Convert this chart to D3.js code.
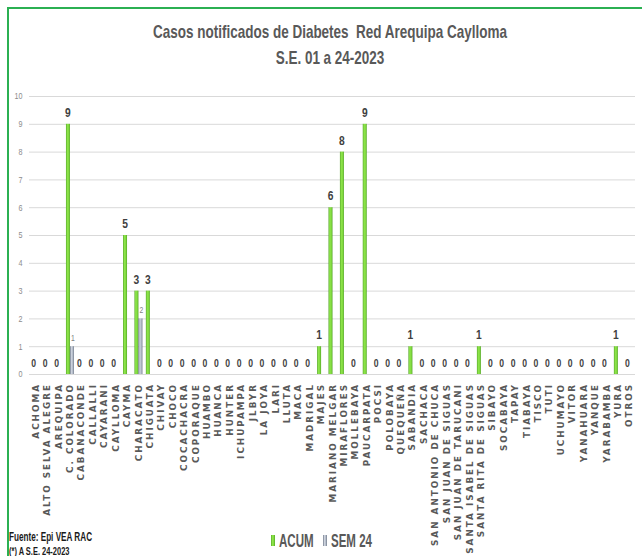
<!DOCTYPE html>
<html>
<head>
<meta charset="utf-8">
<script src="https://cdn.jsdelivr.net/npm/d3@7/dist/d3.min.js"></script>
<style>
  body { margin: 0; background: #fff; }
  svg { display: block; }
  svg text { white-space: pre; }
</style>
</head>
<body>
<div id="chart"></div>
<script>
// distritos (eje x)
var categories = ["ACHOMA", "ALTO SELVA ALEGRE", "AREQUIPA", "C. COLORADO", "CABANACONDE",
  "CALLALLI", "CAYARANI", "CAYLLOMA", "CAYMA", "CHARACATO", "CHIGUATA", "CHIVAY", "CHOCO",
  "COCACHACRA", "COPORAQUE", "HUAMBO", "HUANCA", "HUNTER", "ICHUPAMPA", "JLBYR", "LA JOYA",
  "LARI", "LLUTA", "MACA", "MADRIGAL", "MAJES", "MARIANO MELGAR", "MIRAFLORES", "MOLLEBAYA",
  "PAUCARPATA", "POCSI", "POLOBAYA", "QUEQUEÑA", "SABANDIA", "SACHACA", "SAN ANTONIO DE CHUCA",
  "SAN JUAN DE SIGUAS", "SAN JUAN DE TARUCANI", "SANTA ISABEL DE SIGUAS", "SANTA RITA DE SIGUAS",
  "SIBAYO", "SOCABAYA", "TAPAY", "TIABAYA", "TISCO", "TUTI", "UCHUMAYO", "VITOR", "YANAHUARA",
  "YANQUE", "YARABAMBA", "YURA", "OTROS"];

var acum = [0, 0, 0, 9, 0, 0, 0, 0, 5, 3, 3, 0, 0, 0, 0, 0, 0, 0, 0, 0, 0, 0, 0, 0, 0, 1, 6, 8, 0,
  9, 0, 0, 0, 1, 0, 0, 0, 0, 0, 1, 0, 0, 0, 0, 0, 0, 0, 0, 0, 0, 0, 1, 0];

var sem24 = [0, 0, 0, 1, 0, 0, 0, 0, 0, 2, 0, 0, 0, 0, 0, 0, 0, 0, 0, 0, 0, 0, 0, 0, 0, 0, 0, 0, 0,
  0, 0, 0, 0, 0, 0, 0, 0, 0, 0, 0, 0, 0, 0, 0, 0, 0, 0, 0, 0, 0, 0, 0, 0];

var yTicks = [0, 1, 2, 3, 4, 5, 6, 7, 8, 9, 10];
var seriesNames = ["ACUM", "SEM 24"];
var titleLines = ["Casos notificados de Diabetes  Red Arequipa Caylloma", "S.E. 01 a 24-2023"];
var notes = ["Fuente: Epi VEA RAC", "(*) A S.E. 24-2023"];

var width = 642, height = 556;
var sans = "'Liberation Sans', Arial, sans-serif";

var svg = d3.select("#chart").append("svg")
  .attr("width", width).attr("height", height);

var defs = svg.append("defs");
function hGrad(id, stops) {
  var g = defs.append("linearGradient").attr("id", id)
    .attr("x1", "0%").attr("x2", "100%").attr("y1", "0%").attr("y2", "0%");
  stops.forEach(function (s) {
    g.append("stop").attr("offset", s[0]).attr("stop-color", s[1]);
  });
}
hGrad("gAcum", [["0%", "#52a326"], ["30%", "#8fe54c"], ["70%", "#80da3e"], ["100%", "#52a326"]]);
hGrad("gSem", [["0%", "#6f7888"], ["35%", "#cdd3de"], ["70%", "#b3bbc8"], ["100%", "#6f7888"]]);

// texto angosto: no hay fuente "narrow", se comprime en x
function narrowText(sel, x, y, sx) {
  return sel.attr("transform", "translate(" + x + "," + y + ") scale(" + sx + ",1)")
    .attr("font-family", sans);
}

// borde verde
svg.append("line").attr("x1", 7).attr("x2", width).attr("y1", 8).attr("y2", 8)
  .attr("stroke", "#2bb052").attr("stroke-width", 2);
svg.append("line").attr("x1", 8).attr("x2", 8).attr("y1", 7).attr("y2", height)
  .attr("stroke", "#2bb052").attr("stroke-width", 2);

// titulo
svg.append("g").selectAll("text")
  .data(titleLines)
  .enter().append("text")
  .each(function (d, i) { narrowText(d3.select(this), 330, 38 + i * 26, 0.75); })
  .attr("text-anchor", "middle")
  .attr("font-weight", "bold")
  .attr("font-size", 18)
  .attr("fill", "#595959")
  .text(function (d) { return d; });

var x0 = d3.scaleBand().domain(categories).range([30, 635])
  .paddingInner(0.3).paddingOuter(0.15);
var x1 = d3.scaleBand().domain(seriesNames).range([0, x0.bandwidth()]);
var y = d3.scaleLinear().domain([0, 10]).range([374, 96]);

// grid + eje y
var yAxis = d3.axisLeft(y).tickValues(yTicks).tickSize(-(635 - 29)).tickPadding(7);
var gy = svg.append("g").attr("transform", "translate(29,0)").call(yAxis);
gy.select(".domain").remove();
gy.selectAll(".tick line").attr("stroke", "#d9d9d9").attr("stroke-width", 1);
gy.selectAll(".tick text")
  .attr("font-family", sans).attr("font-size", 9).attr("fill", "#8c8c8c")
  .attr("transform", "scale(0.8,1)")
  .attr("x", -8);

// eje x
var xAxis = d3.axisBottom(x0).tickSize(0).tickPadding(0);
var gx = svg.append("g").attr("transform", "translate(0,374)").call(xAxis);
gx.select(".domain").remove();
gx.selectAll(".tick text")
  .attr("transform", "rotate(-90)")
  .attr("x", -9).attr("y", 0).attr("dy", "0.35em")
  .attr("text-anchor", "end")
  .attr("font-family", "'DejaVu Sans', Verdana, sans-serif")
  .attr("font-weight", "bold")
  .attr("font-size", 8.8)
  .attr("letter-spacing", 2)
  .attr("fill", "#595959");

// barras
var rows = categories.map(function (c, i) {
  return { cat: c, values: [{ s: "ACUM", v: acum[i] }, { s: "SEM 24", v: sem24[i] }] };
});

var groups = svg.append("g").selectAll("g")
  .data(rows)
  .enter().append("g")
  .attr("transform", function (d) { return "translate(" + x0(d.cat) + ",0)"; });

groups.selectAll("rect")
  .data(function (d) { return d.values.filter(function (e) { return e.v > 0; }); })
  .enter().append("rect")
  .attr("x", function (d) { return x1(d.s); })
  .attr("width", x1.bandwidth())
  .attr("y", function (d) { return y(d.v); })
  .attr("height", function (d) { return y(0) - y(d.v); })
  .attr("fill", function (d) { return d.s === "ACUM" ? "url(#gAcum)" : "url(#gSem)"; });

// etiquetas ACUM (incluye ceros)
groups.append("text")
  .each(function (d) {
    narrowText(d3.select(this), x1("ACUM") + x1.bandwidth() / 2, y(d.values[0].v) - 7, 0.82);
  })
  .attr("text-anchor", "middle")
  .attr("font-weight", "bold")
  .attr("font-size", function (d) { return d.values[0].v > 0 ? 12.5 : 10.5; })
  .attr("fill", "#404040")
  .text(function (d) { return d.values[0].v; });

// etiquetas SEM 24 (solo valores > 0)
groups.filter(function (d) { return d.values[1].v > 0; })
  .append("text")
  .each(function (d) {
    narrowText(d3.select(this), x1("SEM 24") + x1.bandwidth() / 2 + 1, y(d.values[1].v) - 5, 0.8);
  })
  .attr("text-anchor", "middle")
  .attr("font-size", 8.5)
  .attr("fill", "#7f7f7f")
  .text(function (d) { return d.values[1].v; });

// leyenda
var legend = svg.append("g").attr("transform", "translate(271,535)");
var legendX = [0, 52];
seriesNames.forEach(function (s, i) {
  legend.append("rect")
    .attr("x", legendX[i]).attr("y", 0)
    .attr("width", 4).attr("height", 11)
    .attr("fill", i === 0 ? "url(#gAcum)" : "url(#gSem)");
  legend.append("text")
    .each(function () { narrowText(d3.select(this), legendX[i] + 8, 12, 0.64); })
    .attr("font-weight", "bold")
    .attr("font-size", 18)
    .attr("fill", "#595959")
    .text(s);
});

// fuente
svg.append("g").selectAll("text")
  .data(notes)
  .enter().append("text")
  .each(function (d, i) { narrowText(d3.select(this), 9, 541 + i * 14, 0.68); })
  .attr("font-weight", "bold")
  .attr("font-size", function (d, i) { return i === 0 ? 12 : 11; })
  .attr("fill", "#1a1a1a")
  .text(function (d) { return d; });
</script>
</body>
</html>
